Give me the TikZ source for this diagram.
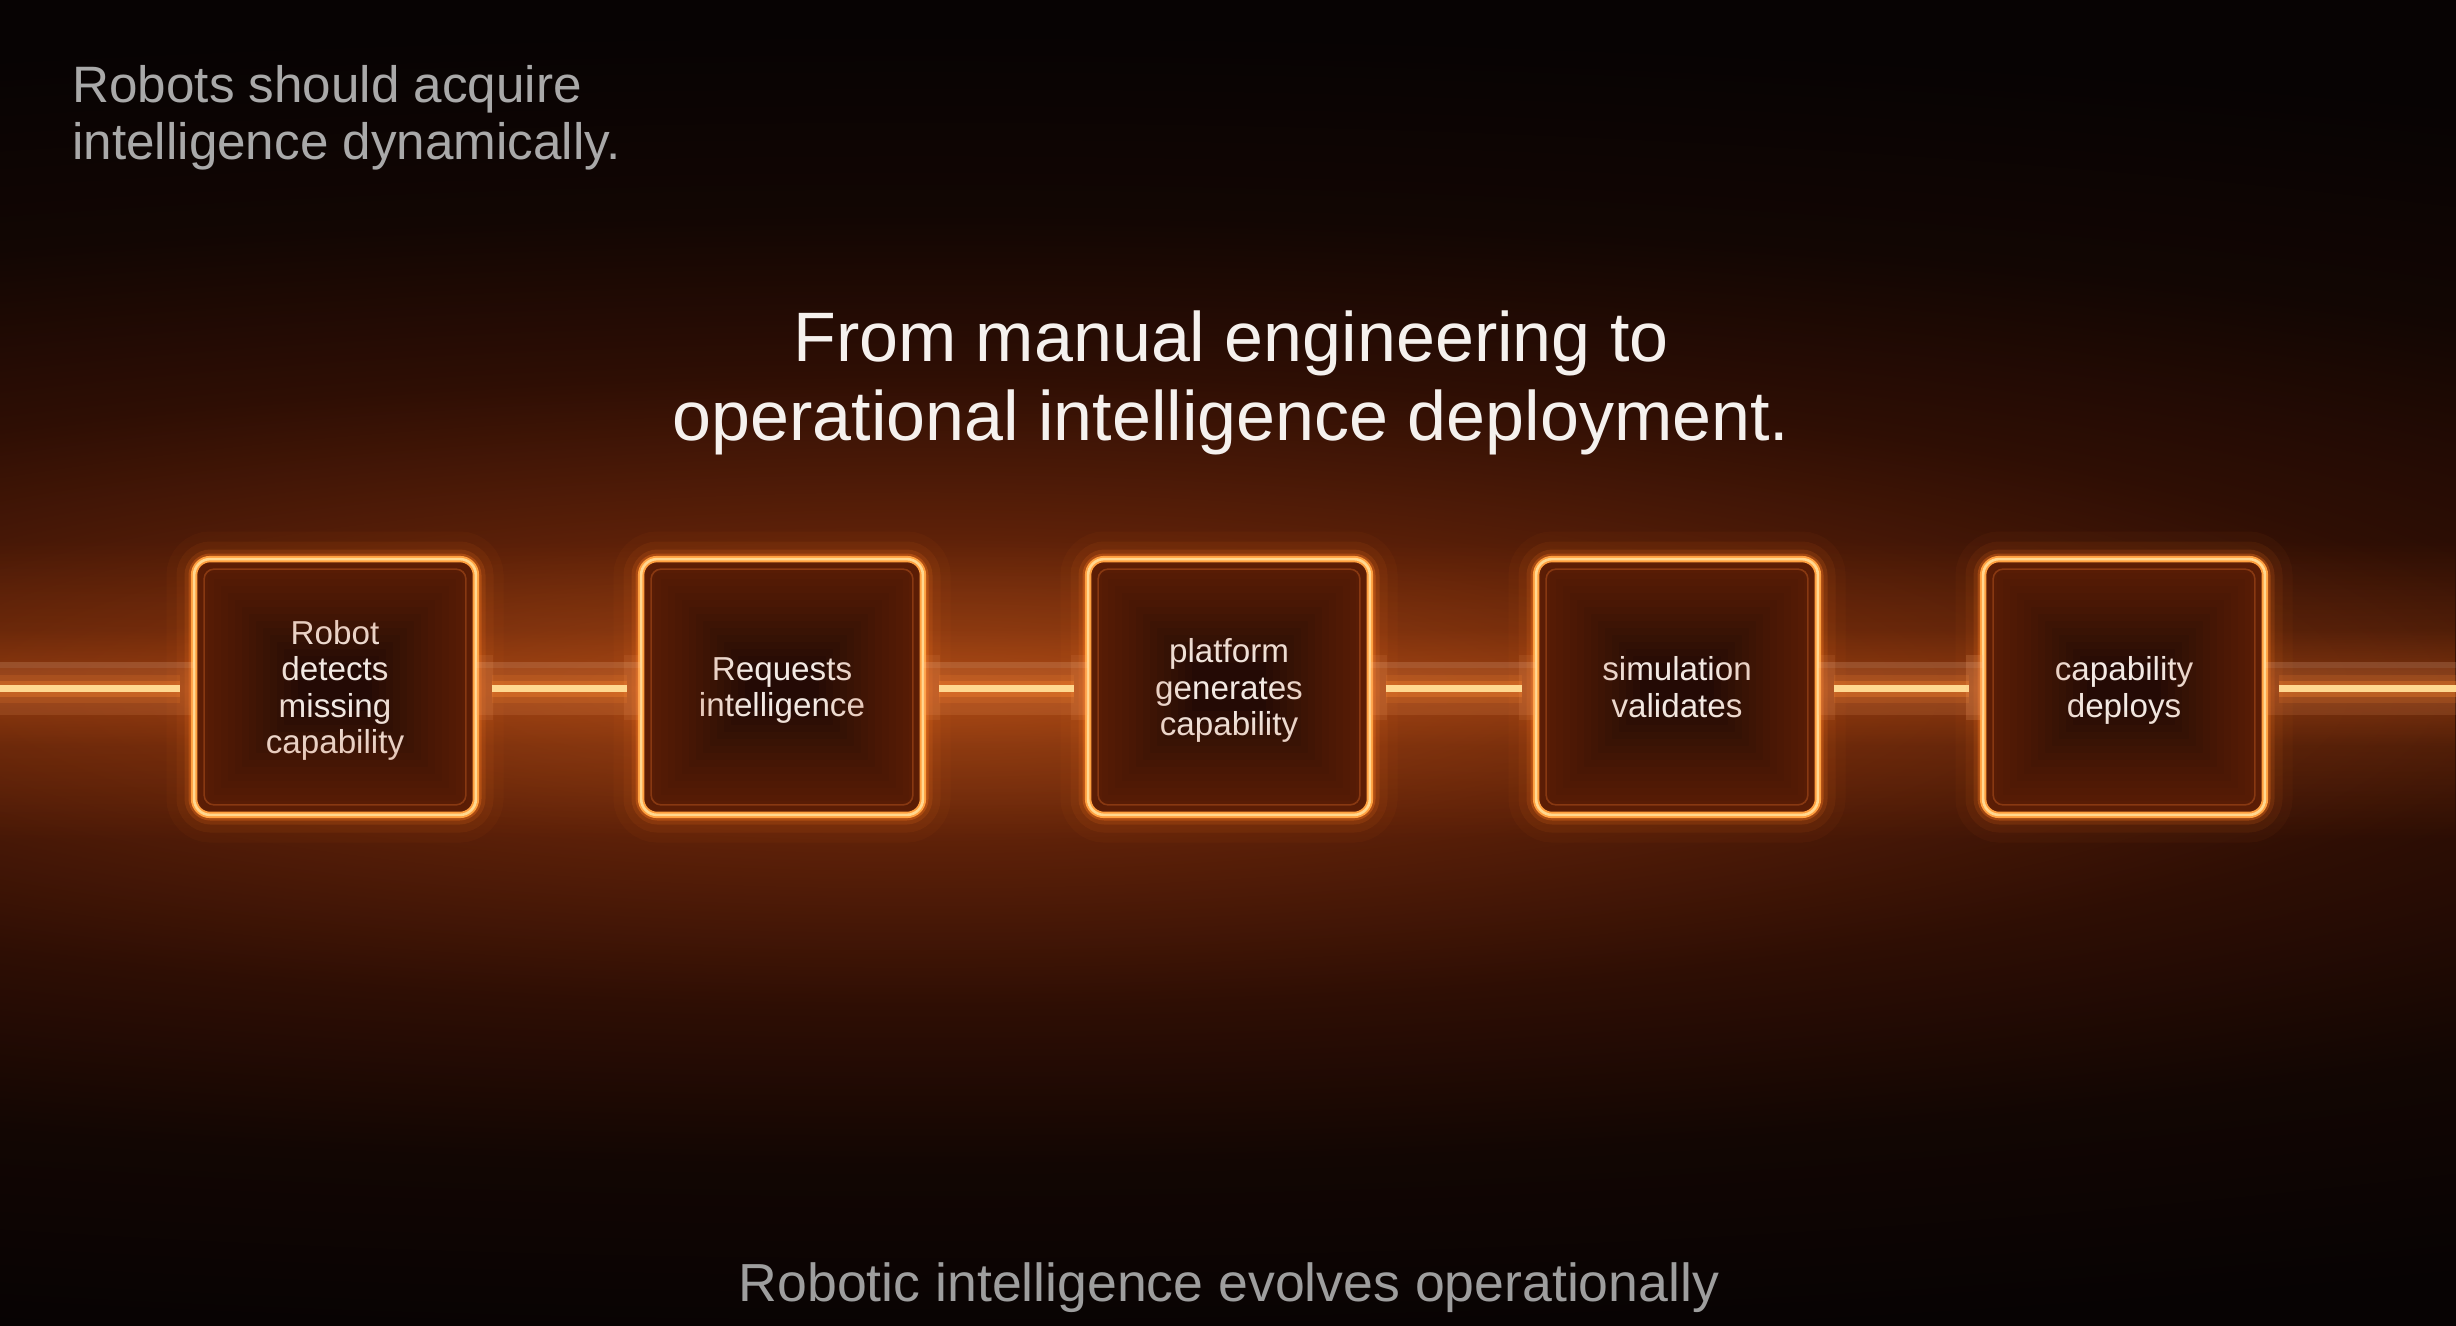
\documentclass[tikz,border=0pt]{standalone}
\usepackage{fontspec}
\setmainfont{Liberation Sans}
\usetikzlibrary{fadings}
\definecolor{bgzero}{HTML}{070303}
\definecolor{gzero}{HTML}{8E3C12}
\definecolor{gone}{HTML}{5C2008}
\definecolor{gtwo}{HTML}{2E0E04}
\definecolor{gthree}{HTML}{120603}
\definecolor{lineglow}{HTML}{D05A18}
\definecolor{boxedge}{HTML}{FFA040}
\definecolor{boxhalo}{HTML}{FF7A20}
\definecolor{boxcore}{HTML}{FFD890}
\definecolor{boxdark}{HTML}{240A05}
\definecolor{innerglow}{HTML}{C8501A}
\definecolor{innerc}{HTML}{B0501C}
\definecolor{tubec}{HTML}{FFB07A}
\definecolor{corec}{HTML}{FFD890}
\definecolor{coreglow}{HTML}{FF8A30}
\definecolor{titlec}{HTML}{F5F1EE}
\definecolor{boxtextc}{HTML}{F3EAE4}
\definecolor{tlc}{HTML}{A9A9A9}
\definecolor{footc}{HTML}{9E9E9E}
\pgfdeclareradialshading{bgglow}{\pgfpoint{0bp}{0bp}}{color(0bp)=(gzero); color(6bp)=(gone); color(12bp)=(gtwo); color(18bp)=(gthree); color(25bp)=(bgzero); color(50bp)=(bgzero)}
\tikzfading[name=vband, top color=transparent!100, bottom color=transparent!100, middle color=transparent!0]
\tikzfading[name=hfade, left color=transparent!0, right color=transparent!45]
\tikzset{
  stepbox/.style={rectangle, rounded corners=8pt, minimum width=140.5pt, minimum height=127.5pt,
    inner sep=0pt, align=center, text=boxtextc, text depth=0pt,
    font=\fontsize{16.6}{18.3}\selectfont,
    preaction={draw=boxhalo, line width=28pt, draw opacity=0.04},
    preaction={draw=boxhalo, line width=18pt, draw opacity=0.07},
    preaction={draw=boxhalo, line width=10pt, draw opacity=0.14},
    preaction={draw=boxhalo, line width=6pt, draw opacity=0.3},
    fill=boxdark},
  boxborder/.style={draw=boxedge, line width=3.2pt, rounded corners=8pt,
    postaction={draw=boxcore, line width=1.3pt}},
  innerline/.style={draw=innerc, line width=0.8pt, rounded corners=5pt, draw opacity=0.55},
  inglow/.style={draw=innerglow, rounded corners=8pt},
  tube/.style={fill=tubec, fill opacity=0.12},
  tubetop/.style={fill=white, fill opacity=0.07},
  flange/.style={fill=tubec, fill opacity=0.09},
  core/.style={draw=corec, line width=3.5pt,
    preaction={draw=coreglow, line width=14pt, draw opacity=0.15},
    preaction={draw=coreglow, line width=8pt, draw opacity=0.3}},
  tltext/.style={font=\fontsize{25.6}{30}\selectfont, text=tlc, inner sep=0pt},
  titletext/.style={font=\fontsize{35}{39}\selectfont, text=titlec, inner sep=0pt},
  foottext/.style={font=\fontsize{26.8}{30}\selectfont, text=footc, inner sep=0pt}
}
\begin{document}
\begin{tikzpicture}[x=0.5pt,y=-0.5pt]
\useasboundingbox (0,0) rectangle (2456,1326);
\fill[bgzero] (0,0) rectangle (2456,1326);
\coordinate (L) at (0,687);
\coordinate (R) at (2456,687);
\begin{scope}
  \clip (0,0) rectangle (2456,1326);
  \shade[shading=bgglow] (920,690) ellipse [x radius=1700pt, y radius=330pt];
  \begin{scope}[transparency group]
    \fill[lineglow, path fading=vband, fill opacity=0.32] (0,540) rectangle (2456,840);
    \fill[lineglow, path fading=vband, fill opacity=0.25] (0,630) rectangle (2456,745);
  \end{scope}
\end{scope}

% boxes
\node[stepbox] (b1) at (335,687) {Robot\\detects\\missing\\capability};
\node[stepbox] (b2) at (782,687) {Requests\\intelligence};
\node[stepbox] (b3) at (1229,687) {platform\\generates\\capability};
\node[stepbox] (b4) at (1677,687) {simulation\\validates};
\node[stepbox] (b5) at (2124,687) {capability\\deploys};

\foreach \b in {b1,b2,b3,b4,b5}{
  \begin{scope}
    \clip[rounded corners=8pt] (\b.north west) rectangle (\b.south east);
    \foreach \w in {104,97,90,83,76,69,62,55,48,41,34,27,20,14,9,5}
      \draw[inglow, line width=\w pt, draw opacity=0.032] (\b.north west) rectangle (\b.south east);
  \end{scope}
  \draw[innerline] ([shift={(5pt,-5pt)}]\b.north west) rectangle ([shift={(-5pt,5pt)}]\b.south east);
  \draw[boxborder] (\b.north west) rectangle (\b.south east);
}

% connectors between boxes
\foreach \a/\c in {b1/b2,b2/b3,b3/b4,b4/b5}{
  \fill[tube] ([yshift=12.5pt]\a.east) rectangle ([yshift=-14pt]\c.west);
  \fill[tubetop] ([yshift=12.5pt]\a.east) rectangle ([yshift=9.5pt]\c.west);
  \fill[flange] ([yshift=16pt]\a.east) rectangle ([xshift=8.5pt,yshift=-16.5pt]\a.east);
  \fill[flange] ([xshift=-8.5pt,yshift=16pt]\c.west) rectangle ([yshift=-16.5pt]\c.west);
  \draw[core] ([xshift=8pt,yshift=-0.75pt]\a.east) -- ([xshift=-7pt,yshift=-0.75pt]\c.west);
}
% outer connectors
\fill[tube] ([yshift=12.5pt]L) rectangle ([yshift=-14pt]b1.west);
\fill[tubetop] ([yshift=12.5pt]L) rectangle ([yshift=9.5pt]b1.west);
\draw[core] ([yshift=-0.75pt]L) -- ([xshift=-7pt,yshift=-0.75pt]b1.west);
\fill[tube] ([yshift=12.5pt]b5.east) rectangle ([yshift=-14pt]R);
\fill[tubetop] ([yshift=12.5pt]b5.east) rectangle ([yshift=9.5pt]R);
\fill[flange] ([xshift=-8.5pt,yshift=16pt]b5.west) rectangle ([yshift=-16.5pt]b5.west);
\draw[core] ([xshift=7pt,yshift=-0.75pt]b5.east) -- ([yshift=-0.75pt]R);

% texts
\node[tltext, anchor=base west] (tl1) at (72,103) {Robots should acquire};
\node[tltext, anchor=base west] (tl2) at (72,160) {intelligence dynamically.};
\node[titletext, anchor=base] (t1) at (1231,362) {From manual engineering to};
\node[titletext, anchor=base] (t2) at (1231,440) {operational intelligence deployment.};
\node[foottext, anchor=base] (ft) at (1229,1301) {Robotic intelligence evolves operationally};
\end{tikzpicture}
\end{document}
